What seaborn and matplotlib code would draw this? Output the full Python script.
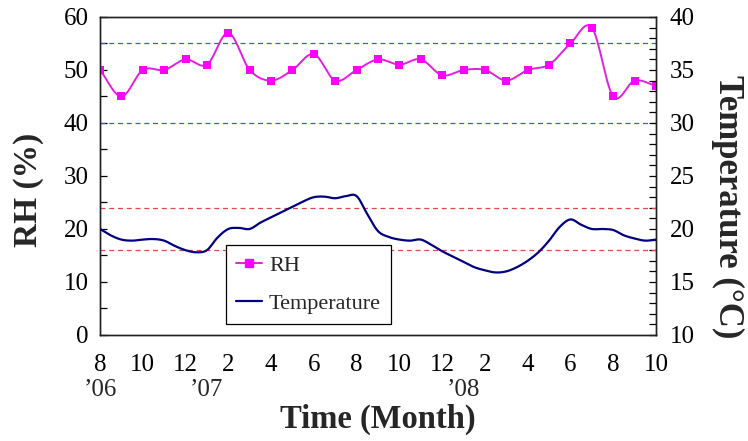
import numpy as np
import pandas as pd
import matplotlib
matplotlib.use("Agg")
import matplotlib.pyplot as plt
import seaborn as sns
from matplotlib.lines import Line2D
from matplotlib.ticker import MultipleLocator

sns.set_theme(style="white")
plt.rcParams["font.family"] = ["Liberation Serif", "DejaVu Serif"]

# Monthly relative humidity, Aug 2006 .. Oct 2008 (month index 0..26)
rh_month = list(range(27))
rh_values = [50, 45, 50, 50, 52, 51, 57, 50, 48, 50, 53, 48, 50, 52,
             51, 52, 49, 50, 50, 48, 50, 51, 55, 58, 45, 48, 47]

# Temperature readings at half-month steps (month index)
temp_month = [0, 0.5, 1, 1.5, 2, 2.5, 3, 3.5, 4, 4.5, 5, 5.5, 6, 6.5, 7, 7.5,
              8, 8.5, 9, 9.5, 10, 10.5, 11, 11.5, 12, 12.5, 13, 13.5, 14, 14.5,
              15, 15.5, 16, 16.5, 17, 17.5, 18, 18.5, 19, 19.5, 20, 20.5, 21,
              21.5, 22, 22.5, 23, 23.5, 24, 24.5, 25, 25.5, 26]
temp_values = [20.0, 19.4, 19.0, 18.9, 19.0, 19.05, 18.9, 18.4, 18.0, 17.8,
               18.0, 19.2, 20.0, 20.1, 20.0, 20.6, 21.1, 21.6, 22.1, 22.6,
               23.0, 23.05, 22.9, 23.1, 23.1, 21.4, 19.8, 19.25, 19.0, 18.9,
               19.0, 18.5, 17.9, 17.4, 16.9, 16.4, 16.1, 15.9, 16.0, 16.4,
               17.0, 17.8, 18.9, 20.2, 20.9, 20.4, 20.0, 20.0, 19.9, 19.4,
               19.1, 18.9, 19.0]

# Acceptable ranges
rh_limits = [40, 55]
temp_limits = [18, 22]

# Axis tick labels
tick_pos = list(range(0, 27, 2))
tick_labels = ["8", "10", "12", "2", "4", "6", "8", "10", "12", "2", "4", "6", "8", "10"]
year_pos = [0, 5, 17]
year_labels = ["\u201906", "\u201907", "\u201908"]


def catmull_rom(x, y, n=16):
    """Smooth curve through the given points (like a smoothed chart line)."""
    x = np.asarray(x, float)
    y = np.asarray(y, float)
    px = np.concatenate([[2 * x[0] - x[1]], x, [2 * x[-1] - x[-2]]])
    py = np.concatenate([[2 * y[0] - y[1]], y, [2 * y[-1] - y[-2]]])
    t = np.linspace(0, 1, n, endpoint=False)[:, None]
    outx, outy = [], []
    for i in range(1, len(px) - 2):
        for arr, out in ((px, outx), (py, outy)):
            p0, p1, p2, p3 = arr[i - 1], arr[i], arr[i + 1], arr[i + 2]
            seg = 0.5 * ((2 * p1) + (-p0 + p2) * t
                         + (2 * p0 - 5 * p1 + 4 * p2 - p3) * t ** 2
                         + (-p0 + 3 * p1 - 3 * p2 + p3) * t ** 3)
            out.extend(seg.ravel())
    outx.append(x[-1])
    outy.append(y[-1])
    return np.array(outx), np.array(outy)


rh_df = pd.DataFrame({"month": rh_month, "rh": rh_values})
rx, ry = catmull_rom(rh_month, rh_values)
tx, ty = catmull_rom(temp_month, temp_values, n=8)
rh_curve = pd.DataFrame({"month": rx, "rh": ry})
temp_curve = pd.DataFrame({"month": tx, "temp": ty})

fig = plt.figure(figsize=(7.48, 4.41), dpi=100)
ax = fig.add_axes([0.1337, 0.2404, 0.7433, 0.7211])
ax2 = ax.twinx()

rh_color = "#ff00ff"
rh_line = "#e020e0"
temp_color = "#000080"

for v in rh_limits:
    ax.axhline(v, color="#3a64b0", lw=0.9, ls=(0, (4, 3)), zorder=1)
for v in temp_limits:
    ax2.axhline(v, color="#d84c4c", lw=0.9, ls=(0, (4, 3)), zorder=1)

sns.lineplot(data=rh_curve, x="month", y="rh", ax=ax, color=rh_line,
             lw=1.4, sort=False, estimator=None, zorder=3)
sns.scatterplot(data=rh_df, x="month", y="rh", ax=ax, color=rh_color,
                marker="s", s=36, edgecolor=rh_color, linewidth=0, zorder=4)
sns.lineplot(data=temp_curve, x="month", y="temp", ax=ax2, color=temp_color,
             lw=1.6, sort=False, estimator=None, zorder=3)

ax.set_xlim(0, 26)
ax.set_ylim(0, 60)
ax2.set_ylim(10, 40)

ax.set_xticks(tick_pos)
ax.set_xticklabels(tick_labels)
ax.xaxis.set_minor_locator(MultipleLocator(1))
ax.yaxis.set_major_locator(MultipleLocator(10))
ax.yaxis.set_minor_locator(MultipleLocator(5))
ax2.yaxis.set_major_locator(MultipleLocator(5))
ax2.yaxis.set_minor_locator(MultipleLocator(1))

for a in (ax, ax2):
    a.tick_params(axis="both", which="both", direction="in", colors="black",
                  labelsize=18, pad=6)
    a.tick_params(which="major", length=5, width=0.9)
    a.tick_params(which="minor", length=5, width=0.9)
    a.set_facecolor("none")
    for s in a.spines.values():
        s.set_color("#222222")
        s.set_linewidth(1.0)
ax.tick_params(axis="x", pad=14)
ax.tick_params(axis="y", which="both", right=False, pad=8)
ax2.tick_params(axis="y", which="both", left=False, right=True, pad=10)

for p, lab in zip(year_pos, year_labels):
    ax.text(p, -0.138, lab, transform=ax.get_xaxis_transform(),
            ha="center", va="top", fontsize=18)

ax.set_xlabel("")
ax.set_ylabel("")
ax2.set_ylabel("")
fig.text(0.5 * (0.1337 + 0.877), 1 - 419 / 441, "Time (Month)", fontsize=23.5,
         fontweight="bold", ha="center", va="center")
fig.text(29 / 748, 1 - 190 / 441, "RH (%)", fontsize=24, fontweight="bold",
         rotation=90, ha="center", va="center")
fig.text(728 / 748, 1 - 207 / 441, "Temperature (\u00b0C)", fontsize=25,
         fontweight="bold", rotation=270, ha="center", va="center")

handles = [
    Line2D([], [], color=rh_line, lw=1.4, marker="s", markersize=6,
           markerfacecolor=rh_color, markeredgecolor=rh_color),
    Line2D([], [], color=temp_color, lw=1.6),
]
leg = ax2.legend(handles, ["RH", "Temperature"], loc="lower left",
                 bbox_to_anchor=(0.226, 0.035), fontsize=16, frameon=True,
                 fancybox=False, edgecolor="black", framealpha=1,
                 handlelength=1.2, handletextpad=0.3, borderpad=0.45,
                 labelspacing=0.8, borderaxespad=0)
leg.get_frame().set_linewidth(0.9)

fig.savefig("out.png", dpi=100)
